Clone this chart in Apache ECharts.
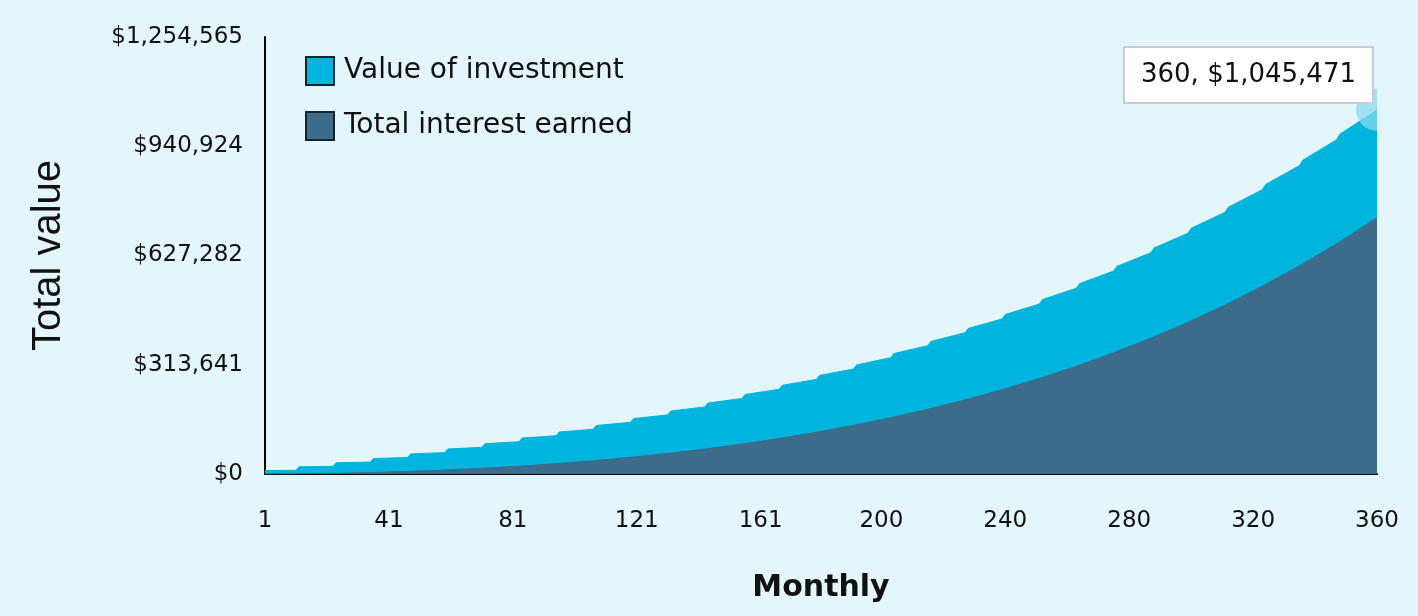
<!DOCTYPE html>
<html>
<head>
<meta charset="utf-8">
<script src="https://cdn.jsdelivr.net/npm/echarts@6/dist/echarts.min.js"></script>
<style>
html,body{margin:0;padding:0;background:#e3f6fb;}
#chart{width:1418px;height:616px;}
</style>
</head>
<body>
<div id="chart"></div>
<script>
// Months at which the "Value of investment" curve was read (pairs around each yearly deposit step)
const valueMonths = [1,11,12,23,24,35,36,47,48,59,60,71,72,83,84,95,96,107,108,119,120,131,132,143,144,155,156,167,168,179,180,191,192,203,204,215,216,227,228,239,240,251,252,263,264,275,276,287,288,299,300,311,312,323,324,335,336,347,348,360];
const investmentValues = [10000,10595,20656,22011,32139,34248,44447,47364,57639,61421,71777,76487,86930,92634,103171,109941,120578,128490,139235,148372,159232,169681,180665,192520,203636,216999,228257,243235,254645,271355,282928,301494,313242,333797,345732,368419,380555,405527,417878,445299,457880,487927,500756,533617,546710,582585,595962,635069,648750,691321,705329,751613,765970,816233,830965,885493,900626,959725,975289,1045471];

// Months at which "Total interest earned" was read
const interestMonths = [1,11,23,35,47,59,71,83,95,107,119,131,143,155,167,179,191,203,215,227,239,251,263,275,287,299,311,323,335,347,360];
const interestValues = [0,587,1985,4193,7268,11273,16273,22340,29552,37990,47743,58905,71577,85868,101893,119777,139655,161668,185970,212725,242110,274314,309540,348001,389933,435584,485222,539132,597622,661019,736000];

const xTickValues = [1,41,81,121,161,200,240,280,320,360];
const yTickValues = [0,313641,627282,940924,1254565];

const seriesNames = ['Value of investment','Total interest earned'];
const seriesColors = ['#00b5dd','#3d6b8a'];

const fmtMoney = v => '$' + Math.round(v).toLocaleString('en-US');
const zip = (xs, ys) => xs.map((x, i) => [x, ys[i]]);

const lastMonth = valueMonths[valueMonths.length - 1];
const lastValue = investmentValues[investmentValues.length - 1];

const FONT = 'DejaVu Sans';
const chart = echarts.init(document.getElementById('chart'), null, {renderer: 'canvas'});
chart.setOption({
  backgroundColor: '#e3f6fb',
  animation: false,
  title: {
    text: lastMonth + ', ' + fmtMoney(lastValue),
    right: 45, top: 47,
    backgroundColor: '#ffffff',
    borderColor: '#c9cdd0', borderWidth: 2,
    padding: [13, 17, 13, 17],
    textStyle: {fontFamily: FONT, fontSize: 26, fontWeight: 'normal', color: '#111', lineHeight: 30}
  },
  legend: {
    orient: 'vertical',
    left: 305, top: 56,
    padding: 0,
    itemWidth: 28, itemHeight: 28, itemGap: 25,
    icon: 'rect',
    itemStyle: {borderColor: '#16232e', borderWidth: 2},
    textStyle: {fontFamily: FONT, fontSize: 28, lineHeight: 28, color: '#111', padding: [0,0,0,5]},
    data: seriesNames
  },
  grid: {left: 265, right: 41, top: 37, bottom: 142},
  xAxis: {
    type: 'value', min: 1, max: 360,
    name: 'Monthly', nameLocation: 'middle', nameGap: 99,
    nameTextStyle: {fontFamily: FONT, fontSize: 30, fontWeight: 'bold', color: '#111'},
    axisLine: {show: true, onZero: false, lineStyle: {color: '#000', width: 2}},
    axisTick: {show: false},
    splitLine: {show: false},
    axisLabel: {
      customValues: xTickValues,
      margin: 36,
      fontFamily: FONT, fontSize: 23, color: '#111',
      showMinLabel: true, showMaxLabel: true
    }
  },
  yAxis: {
    type: 'value', min: 0, max: yTickValues[yTickValues.length - 1],
    name: 'Total value', nameLocation: 'middle', nameGap: 196, nameRotate: 90,
    nameTextStyle: {fontFamily: 'Liberation Sans', fontSize: 40, color: '#111'},
    axisLine: {show: true, lineStyle: {color: '#000', width: 2}},
    axisTick: {show: false},
    splitLine: {show: false},
    axisLabel: {
      customValues: yTickValues,
      formatter: v => fmtMoney(v),
      margin: 22,
      fontFamily: FONT, fontSize: 23, color: '#111'
    }
  },
  series: [
    {
      name: seriesNames[0], type: 'line',
      data: zip(valueMonths, investmentValues),
      showSymbol: false, symbol: 'none',
      itemStyle: {color: seriesColors[0]},
      lineStyle: {color: seriesColors[0], width: 1},
      areaStyle: {color: seriesColors[0], opacity: 1},
      z: 2
    },
    {
      name: seriesNames[1], type: 'line',
      data: zip(interestMonths, interestValues),
      showSymbol: false, symbol: 'none',
      itemStyle: {color: seriesColors[1]},
      lineStyle: {color: seriesColors[1], width: 1},
      areaStyle: {color: seriesColors[1], opacity: 1},
      z: 3
    },
    {
      name: 'hover', type: 'custom',
      clip: true,
      data: [[lastMonth, lastValue]],
      renderItem: function (params, api) {
        const p = api.coord([api.value(0), api.value(1)]);
        return {
          type: 'circle',
          shape: {cx: p[0], cy: p[1], r: 21},
          style: {fill: 'rgba(140, 215, 238, 0.75)'}
        };
      },
      z: 4
    }
  ]
});
</script>
</body>
</html>
